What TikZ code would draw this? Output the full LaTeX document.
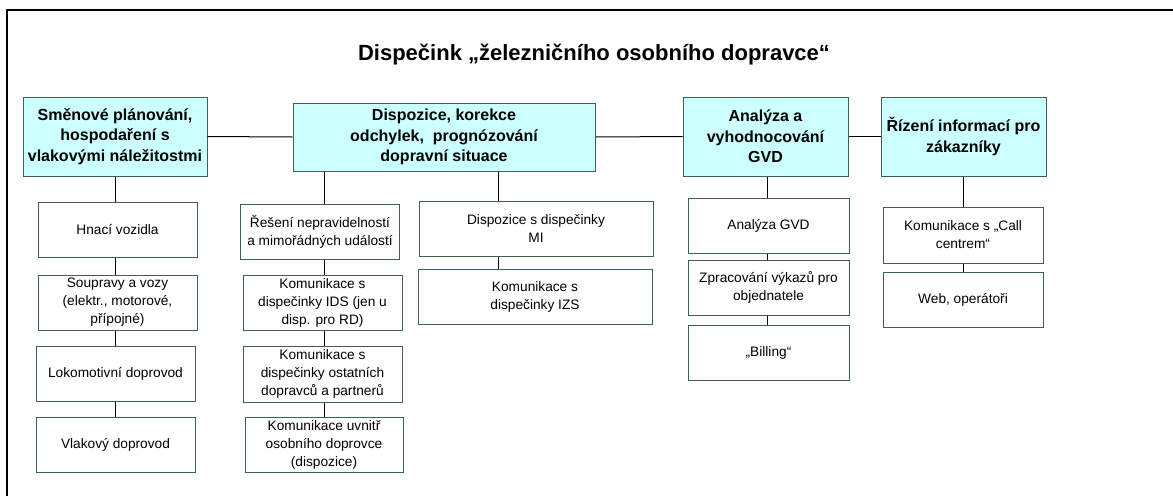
\documentclass[tikz,border=0pt]{standalone}
\usepackage{fontspec}
\setmainfont{Liberation Sans}
\begin{document}
\begin{tikzpicture}
[x=1pt,y=-1pt,
hlava/.style={draw={rgb, 255:red, 60; green, 100; blue, 75},fill={rgb, 255:red, 204; green, 255; blue, 255},line width=1pt,
  align=center,inner sep=1pt,minimum width=165pt,minimum height=79pt,font=\fontsize{16}{20.5}\selectfont\bfseries},
pod/.style={draw={rgb, 255:red, 60; green, 100; blue, 75},fill=white,line width=1pt,
  align=center,inner sep=1pt,minimum width=159pt,minimum height=55pt,font=\fontsize{13.7}{18}\selectfont},
spoj/.style={draw=black,line width=1pt}]
\useasboundingbox (0,0) rectangle (1173,496);
%%%%% FRAME AND TITLE
\draw[line width=1.6pt] (7,496) -- (7,10) -- (1173,10);
\node[font=\fontsize{22}{24}\selectfont\bfseries] (nadpis) at (594,55) {Dispečink „železničního osobního dopravce“};
%%%%% HEADS
\node[hlava,minimum width=184pt] (hlava1) at (115,136.5) {Směnové plánování,\\hospodaření s\\vlakovými náležitostmi};
\node[hlava,minimum width=302pt,minimum height=68pt] (hlava2) at (444,137) {Dispozice, korekce\\odchylek,\ \ prognózování\\dopravní situace};
\node[hlava] (hlava3) at (765.5,136.5) {Analýza a\\vyhodnocování\\GVD};
\node[hlava] (hlava4) at (963.5,136.5) {Řízení informací pro\\zákazníky};
\foreach \i[remember=\i as \lasti (initially 1)] in {2,3,4}
{
	\path[spoj] (hlava\lasti.east) edge (hlava\i.west);
};
%%%%% COLUMN A
\coordinate (sloupA) at (115,0);
\node[pod] (podA1) at (117.5,230) {Hnací vozidla};
\node[pod] (podA2) at (117.5,302.5) {Soupravy a vozy\\(elektr., motorové,\\přípojné)};
\node[pod] (podA3) at (115.5,373.5) {Lokomotivní doprovod};
\node[pod] (podA4) at (115.5,444.5) {Vlakový doprovod};
%%%%% COLUMN B
\coordinate (sloupB) at (324,0);
\node[pod] (podB1) at (320,231.5) {Řešení nepravidelností\\a mimořádných událostí};
\node[pod] (podB2) at (322.5,302.5) {Komunikace s\\dispečinky IDS (jen u\\disp. pro RD)};
\node[pod,minimum height=56pt] (podB3) at (322.5,374) {Komunikace s\\dispečinky ostatních\\dopravců a partnerů};
\node[pod,minimum width=158pt] (podB4) at (324,444.5) {Komunikace uvnitř\\osobního doprovce\\(dispozice)};
%%%%% COLUMN C
\coordinate (sloupC) at (498,0);
\node[pod,minimum width=234pt] (podC1) at (536,228.5) {Dispozice s dispečinky\\MI};
\node[pod,minimum width=234pt] (podC2) at (535,296.5) {Komunikace s\\dispečinky IZS};
%%%%% COLUMN D
\coordinate (sloupD) at (767,0);
\node[pod,minimum width=161pt] (podD1) at (768.5,225.5) {Analýza GVD};
\node[pod,minimum width=161pt] (podD2) at (768.5,287.5) {Zpracování výkazů pro\\objednatele};
\node[pod,minimum width=161pt] (podD3) at (768.5,352.5) {„Billing“};
%%%%% COLUMN E
\coordinate (sloupE) at (963,0);
\node[pod,minimum width=160pt,minimum height=56pt] (podE1) at (963,235) {Komunikace s „Call\\centrem“};
\node[pod,minimum width=160pt] (podE2) at (963,299.5) {Web, operátoři};
%%%%% LINKS DOWN
\path[spoj] (hlava1.south -| sloupA) edge (podA1.north -| sloupA);
\path[spoj] (hlava2.south -| sloupB) edge (podB1.north -| sloupB);
\path[spoj] (hlava2.south -| sloupC) edge (podC1.north -| sloupC);
\path[spoj] (hlava3.south -| sloupD) edge (podD1.north -| sloupD);
\path[spoj] (hlava4.south -| sloupE) edge (podE1.north -| sloupE);
\foreach \s/\n in {A/4,B/4,C/2,D/3,E/2}
{
	\foreach \i[remember=\i as \lasti (initially 1)] in {2,...,\n}
	{
		\path[spoj] (pod\s\lasti.south -| sloup\s) edge (pod\s\i.north -| sloup\s);
	};
};
\end{tikzpicture}
\end{document}
